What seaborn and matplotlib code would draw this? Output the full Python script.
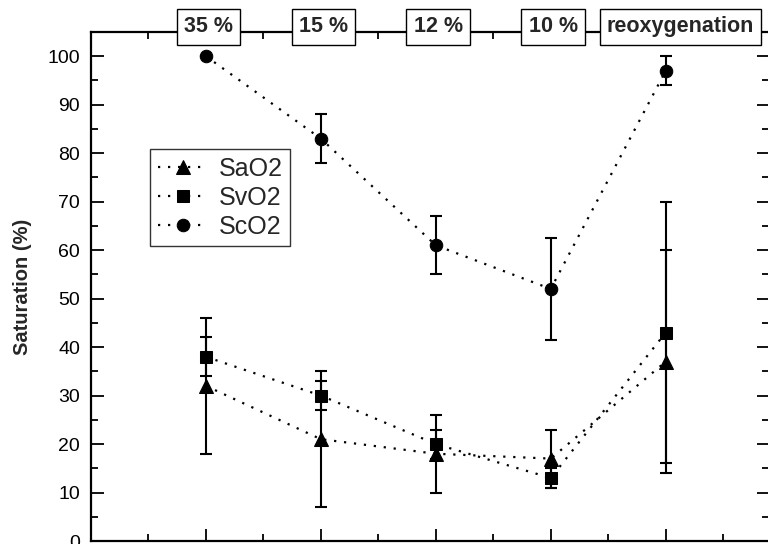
import pandas as pd
import matplotlib.pyplot as plt
import matplotlib.transforms as mtransforms
from matplotlib.ticker import MultipleLocator
import seaborn as sns

sns.set_style("ticks")
plt.rcParams['font.family'] = ['Liberation Sans', 'DejaVu Sans']

# conditions (top labels) and positions
conditions = ['35 %', '15 %', '12 %', '10 %', 'reoxygenation']
pos = [1, 2, 3, 4, 5]

# saturation values (%) and error (+/-)
sao2 = [32, 21, 18, 17, 37]
sao2_err = [14, 14, 8, 6, 23]
svo2 = [38, 30, 20, 13, 43]
svo2_err = [4, 3, 3, 2, 27]
sco2 = [100, 83, 61, 52, 97]
sco2_err = [0, 5, 6, 10.5, 3]

series = [('SaO2', sao2, sao2_err, '^'),
          ('SvO2', svo2, svo2_err, 's'),
          ('ScO2', sco2, sco2_err, 'o')]

fig = plt.figure(figsize=(7.68, 5.44), dpi=100)
ax = fig.add_axes([0.1185, 0.0055, 0.883, 0.9357])

for name, vals, err, mk in series:
    df = pd.DataFrame({'x': pos, 'y': vals})
    sns.lineplot(x='x', y='y', data=df, ax=ax, color='black', marker=mk,
                 markersize=9 if mk != '^' else 10.5, markeredgecolor='black',
                 linestyle=(0, (1, 3.5)), linewidth=1.6, label=name)
    ax.errorbar(pos, vals, yerr=err, fmt='none', ecolor='black',
                elinewidth=1.5, capsize=4, capthick=1.5)

ax.set_xlim(0, 5.9)
ax.set_ylim(0, 105)
ax.set_xlabel('')
ax.set_ylabel('Saturation (%)', fontsize=14.5, fontweight='bold')
ax.yaxis.set_label_coords(-0.087, 0.5)
ax.yaxis.set_major_locator(MultipleLocator(10))
ax.yaxis.set_minor_locator(MultipleLocator(5))
ax.xaxis.set_major_locator(MultipleLocator(1))
ax.xaxis.set_minor_locator(MultipleLocator(0.5))
ax.tick_params(which='both', direction='in', top=True, right=True,
               width=1.3, labelsize=14, colors='black', pad=8)
ax.tick_params(which='major', length=9)
ax.tick_params(which='minor', length=5)
ax.set_xticklabels([])
ax.set_yticks(range(0, 101, 10))
for sp in ax.spines.values():
    sp.set_linewidth(1.6)
    sp.set_color('black')

# condition labels in boxes along the top axis
trans = mtransforms.blended_transform_factory(ax.transData, ax.transAxes)
for i, lab in enumerate(conditions):
    xpos = pos[i] + (0.13 if lab == 'reoxygenation' else 0.02)
    ax.text(xpos, 1.0098, lab, transform=trans, ha='center', va='center',
            fontsize=15.5, fontweight='bold', clip_on=False, zorder=10,
            bbox=dict(boxstyle='square,pad=0.33', fc='white', ec='black', lw=1))

leg = ax.legend(loc='upper left', bbox_to_anchor=(0.087, 0.77), fontsize=18,
                frameon=True, fancybox=False, edgecolor='black',
                handlelength=2.0, borderpad=0.3, labelspacing=0.2,
                handletextpad=0.45, borderaxespad=0)
leg.get_frame().set_linewidth(1)

fig.savefig('out.png', dpi=100)
